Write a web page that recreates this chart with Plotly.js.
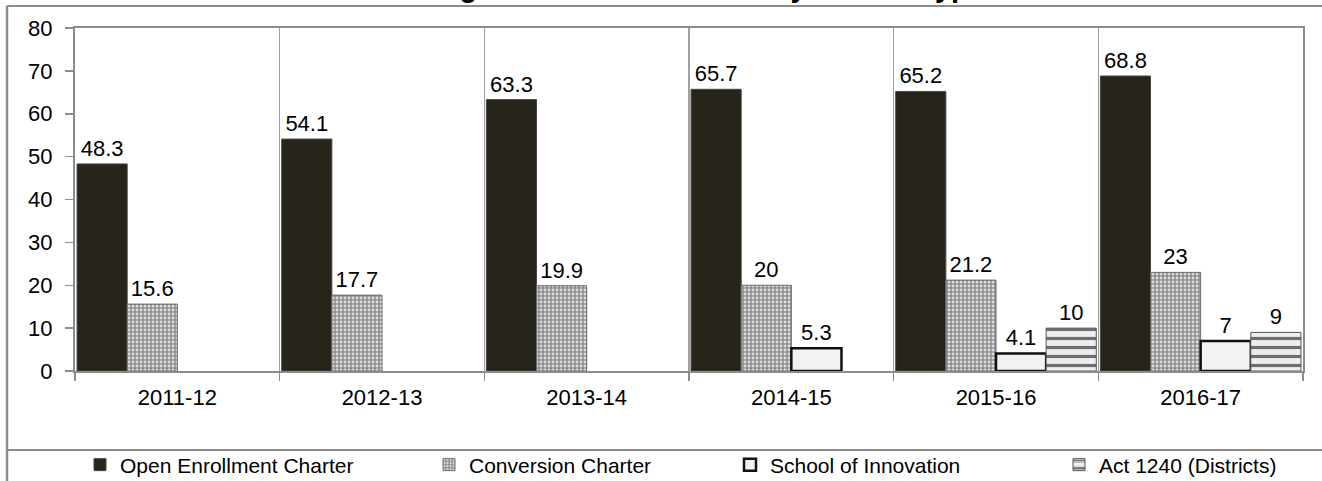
<!DOCTYPE html>
<html>
<head>
<meta charset="utf-8">
<script src="https://cdn.plot.ly/plotly-3.0.1.min.js"></script>
<style>html,body{margin:0;padding:0;background:#fff;}#chart{width:1322px;height:481px;}</style>
</head>
<body>
<div id="chart"></div>
<script>
const years = ['2011-12', '2012-13', '2013-14', '2014-15', '2015-16', '2016-17'];
const openEnrollment = [48.3, 54.1, 63.3, 65.7, 65.2, 68.8];
const conversion = [15.6, 17.7, 19.9, 20, 21.2, 23];
const schoolOfInnovation = [null, null, null, 5.3, 4.1, 7];
const act1240 = [null, null, null, null, 10, 9];
const seriesNames = ['Open Enrollment Charter', 'Conversion Charter', 'School of Innovation', 'Act 1240 (Districts)'];
const titleText = 'Average Number of Waivers by School Type';

const FONT = 'Liberation Sans, Arial, sans-serif';
const L = 75, R = 19, T = 28, B = 110, W = 1322, H = 481;
const pw = W - L - R, ph = H - T - B;
const px = x => (x - L) / pw;
const py = y => (H - B - y) / ph;

const common = {
  type: 'bar', x: years, texttemplate: '%{y}', textposition: 'outside',
  cliponaxis: false, textfont: {family: FONT, size: 22, color: '#000'}
};
const traces = [
  Object.assign({}, common, {name: seriesNames[0], y: openEnrollment, legend: 'legend',
    marker: {color: '#27241b', line: {color: '#4a473f', width: 1}}}),
  Object.assign({}, common, {name: seriesNames[1], y: conversion, legend: 'legend2',
    marker: {color: '#8a8a8a', line: {color: '#6a6a6a', width: 1},
      pattern: {shape: '.', bgcolor: '#8e8e8e', fgcolor: '#dedede', size: 4, solidity: 0.4, fillmode: 'replace'}}}),
  Object.assign({}, common, {name: seriesNames[2], y: schoolOfInnovation, legend: 'legend3',
    marker: {color: '#f2f2f2', line: {color: '#111', width: 2.5}}}),
  Object.assign({}, common, {name: seriesNames[3], y: act1240, legend: 'legend4',
    marker: {color: '#bdbdbd', line: {color: '#555', width: 1},
      pattern: {shape: '-', bgcolor: '#eeeeee', fgcolor: '#6e6e6e', size: 9, solidity: 0.35, fillmode: 'replace'}}})
];

const frame = '#8c8c8c';
const legendBase = x => ({orientation: 'h', x: px(x), xanchor: 'left', y: py(465), yanchor: 'middle',
  font: {family: FONT, size: 21, color: '#000'}, itemwidth: 30, bgcolor: 'rgba(0,0,0,0)'});
const layout = {
  width: W, height: H,
  margin: {l: L, r: R, t: T, b: B, pad: 0, autoexpand: false},
  paper_bgcolor: '#fff', plot_bgcolor: '#fff',
  font: {family: FONT, size: 22, color: '#000'},
  barmode: 'group', bargap: 0.02, bargroupgap: 0,
  showlegend: true,
  legend: legendBase(80),
  legend2: legendBase(429),
  legend3: legendBase(730),
  legend4: legendBase(1059),
  xaxis: {type: 'category', tickson: 'boundaries', ticks: 'outside', ticklen: 8, tickwidth: 1.5,
    tickcolor: frame, showgrid: true, gridcolor: '#a0a0a0', gridwidth: 1.5,
    showline: true, linecolor: frame, linewidth: 2, mirror: true,
    tickfont: {family: FONT, size: 22, color: '#000'}, ticklabelstandoff: 6, fixedrange: true},
  yaxis: {range: [0, 80], dtick: 10, tick0: 0, ticks: 'outside', ticklen: 8, tickwidth: 1.5,
    tickcolor: frame, showgrid: false, zeroline: false,
    showline: true, linecolor: frame, linewidth: 2, mirror: true,
    tickfont: {family: FONT, size: 22, color: '#000'}, ticklabelstandoff: 8, fixedrange: true},
  shapes: [
    {type: 'line', xref: 'paper', yref: 'paper', x0: px(7), x1: px(W), y0: py(6), y1: py(6), line: {color: frame, width: 2}},
    {type: 'line', xref: 'paper', yref: 'paper', x0: px(7), x1: px(7), y0: py(6), y1: py(H), line: {color: frame, width: 2.5}},
    {type: 'line', xref: 'paper', yref: 'paper', x0: px(7), x1: px(W), y0: py(450), y1: py(450), line: {color: frame, width: 2}}
  ],
  annotations: [
    {text: '<b>' + titleText + '</b>', xref: 'paper', yref: 'paper', x: px(682), y: py(5),
      xanchor: 'center', yanchor: 'bottom', showarrow: false,
      font: {family: FONT, size: 29, color: '#000'}}
  ]
};

Plotly.newPlot('chart', traces, layout, {displayModeBar: false, staticPlot: true});
</script>
</body>
</html>
